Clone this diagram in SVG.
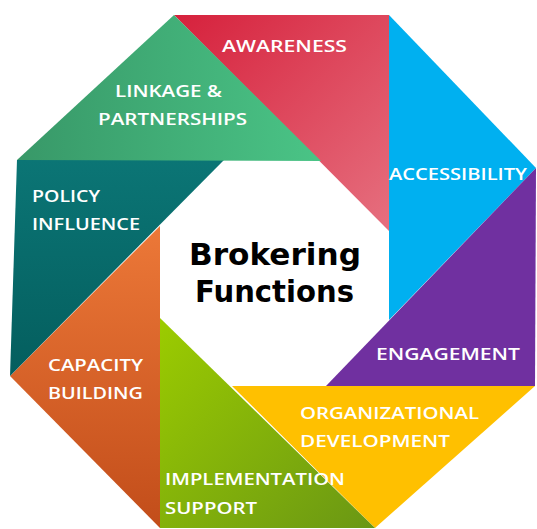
<svg xmlns="http://www.w3.org/2000/svg" width="537" height="529" viewBox="0 0 537 529">
<defs>
<linearGradient id="gRed" x1="0" y1="0" x2="1" y2="1"><stop offset="0" stop-color="#d6213c"/><stop offset="1" stop-color="#e6707f"/></linearGradient>
<linearGradient id="gLink" x1="0" y1="0" x2="1" y2="0"><stop offset="0" stop-color="#389868"/><stop offset="1" stop-color="#4ac486"/></linearGradient>
<linearGradient id="gTeal" x1="0" y1="0" x2="0" y2="1"><stop offset="0" stop-color="#0b7575"/><stop offset="1" stop-color="#045e5e"/></linearGradient>
<linearGradient id="gOrange" x1="0" y1="0" x2="0" y2="1"><stop offset="0" stop-color="#ec7838"/><stop offset="1" stop-color="#c24d1a"/></linearGradient>
<linearGradient id="gImpl" x1="0" y1="0" x2="1" y2="1"><stop offset="0" stop-color="#9ccc00"/><stop offset="1" stop-color="#6a9714"/></linearGradient>
<style>
.lbl{font-family:"Open Sans","Liberation Sans",sans-serif;font-weight:600;font-size:17px;fill:#ffffff;}
.ttl{font-family:"DejaVu Sans","Liberation Sans",sans-serif;font-weight:bold;font-size:31px;fill:#000000;text-anchor:middle;}
</style>
</defs>
<rect width="537" height="529" fill="#ffffff"/>
<g id="awareness">
<polygon points="174,15 389,15 389,231" fill="url(#gRed)"/>
<text class="lbl" x="222" y="52" textLength="125" lengthAdjust="spacingAndGlyphs">AWARENESS</text>
</g>
<g id="accessibility">
<polygon points="389,15 536,168 389,320" fill="#00b0f0"/>
<text class="lbl" x="389" y="180" textLength="138" lengthAdjust="spacingAndGlyphs">ACCESSIBILITY</text>
</g>
<g id="engagement">
<polygon points="536,168 535,386 326,386" fill="#7030a0"/>
<text class="lbl" x="376" y="360" textLength="144" lengthAdjust="spacingAndGlyphs">ENGAGEMENT</text>
</g>
<g id="organizational-development">
<polygon points="535,386 375,528 232,386" fill="#ffc000"/>
<text class="lbl" x="300" y="419" textLength="179" lengthAdjust="spacingAndGlyphs">ORGANIZATIONAL</text>
<text class="lbl" x="300" y="447" textLength="150" lengthAdjust="spacingAndGlyphs">DEVELOPMENT</text>
</g>
<g id="implementation-support">
<polygon points="375,528 160,528 160,318" fill="url(#gImpl)"/>
<text class="lbl" x="165" y="485" textLength="180" lengthAdjust="spacingAndGlyphs">IMPLEMENTATION</text>
<text class="lbl" x="165" y="514" textLength="92" lengthAdjust="spacingAndGlyphs">SUPPORT</text>
</g>
<g id="capacity-building">
<polygon points="160,528 10,376 160,226" fill="url(#gOrange)"/>
<text class="lbl" x="48" y="371" textLength="95" lengthAdjust="spacingAndGlyphs">CAPACITY</text>
<text class="lbl" x="48" y="399" textLength="95" lengthAdjust="spacingAndGlyphs">BUILDING</text>
</g>
<g id="policy-influence">
<polygon points="10,376 17,160 224,160" fill="url(#gTeal)"/>
<text class="lbl" x="32" y="202" textLength="68" lengthAdjust="spacingAndGlyphs">POLICY</text>
<text class="lbl" x="32" y="230" textLength="108" lengthAdjust="spacingAndGlyphs">INFLUENCE</text>
</g>
<g id="linkage-partnerships">
<polygon points="17,160 174,15 321,161" fill="url(#gLink)"/>
<text class="lbl" x="115" y="97" textLength="107" lengthAdjust="spacingAndGlyphs">LINKAGE &amp;</text>
<text class="lbl" x="98" y="125" textLength="149" lengthAdjust="spacingAndGlyphs">PARTNERSHIPS</text>
</g>
<g id="center">
<text class="ttl" x="275" y="265" textLength="172" lengthAdjust="spacingAndGlyphs">Brokering</text>
<text class="ttl" x="274.5" y="302" textLength="159" lengthAdjust="spacingAndGlyphs">Functions</text>
</g>
<g id="connectors"/>
</svg>
